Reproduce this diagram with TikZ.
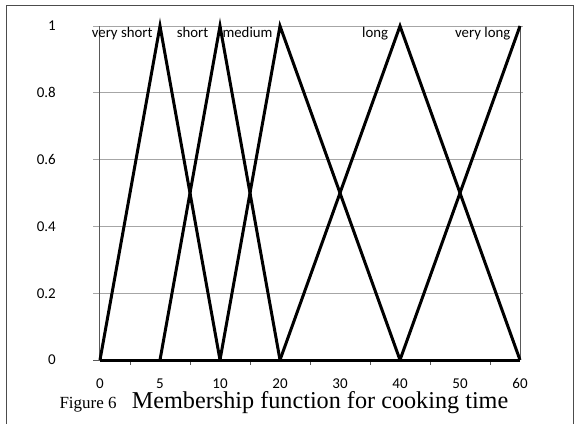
\documentclass[tikz,border=0pt]{standalone}
\usepackage{fontspec}
\setmainfont{Liberation Serif}
\newfontfamily\calib{Carlito}
\begin{document}
\begin{tikzpicture}[x=1pt,y=-1pt,
  series/.style={line width=3pt,black},
  grid line/.style={draw=black!35,line width=0.8pt},
  axis line/.style={draw=black!65,line width=0.9pt},
  frame line/.style={draw=black!70,line width=0.9pt},
  ylab/.style={anchor=east,inner sep=0pt,font=\calib\fontsize{15}{15}\selectfont},
  xlab/.style={anchor=center,inner sep=0pt,font=\calib\fontsize{15}{15}\selectfont},
  serlab/.style={anchor=base east,inner sep=0pt,font=\calib\fontsize{14.8}{15}\selectfont}]
\useasboundingbox (0,0) rectangle (578,423);
% outer frame
\draw[frame line] (6,430) -- (6,5) -- (573,5) -- (573,430);
% category positions
\foreach \i in {0,...,7} {
  \coordinate (b\i) at ({100+60*\i},360);
  \coordinate (t\i) at ({100+60*\i},26);
}
% gridlines with y ticks
\foreach \v in {0.2,0.4,0.6,0.8,1} {
  \draw[grid line] (93,{360-334*\v}) -- (523,{360-334*\v});
}
\draw[axis line] (93,360) -- (99,360);
% axes
\draw[axis line] (99,26) -- (99,360) -- (520,360);
\draw[axis line] (t7) -- (b7);
\foreach \k in {0,...,6} {
  \draw[axis line] ({130+60*\k},360) -- ({130+60*\k},364.5);
}
% y labels
\node[ylab] (y0) at (56,360) {0};
\node[ylab] (y1) at (56,293.2) {0.2};
\node[ylab] (y2) at (56,226.4) {0.4};
\node[ylab] (y3) at (56,159.6) {0.6};
\node[ylab] (y4) at (56,92.8) {0.8};
\node[ylab] (y5) at (56,26) {1};
% x labels
\foreach \i/\t in {0/0,1/5,2/10,3/20,4/30,5/40,6/50,7/60} {
  \node[xlab] (x\i) at ({100+60*\i},383.5) {\t};
}
% series
\draw[series] (b0) -- (b7);
\draw[series] (b0) -- (t1) -- (b2);
\draw[series] (b1) -- (t2) -- (b3);
\draw[series] (b2) -- (t3) -- (b5);
\draw[series] (b3) -- (t5) -- (b7);
\draw[series] (b5) -- (t7);
% series labels
\node[serlab] (lvs) at (152.7,37) {very short};
\node[serlab] (ls) at (208.5,37) {short};
\node[serlab] (lm) at (272.7,37) {medium};
\node[serlab] (ll) at (388.3,37) {long};
\node[serlab] (lvl) at (510.5,37) {very long};
% caption
\node[anchor=base west,inner sep=0pt,font=\fontsize{17}{17}\selectfont] (fig) at (59.3,408) {Figure 6};
\node[anchor=base west,inner sep=0pt,font=\fontsize{24.2}{24}\selectfont] (cap) at (131.7,408) {Membership function for cooking time};
\end{tikzpicture}
\end{document}
